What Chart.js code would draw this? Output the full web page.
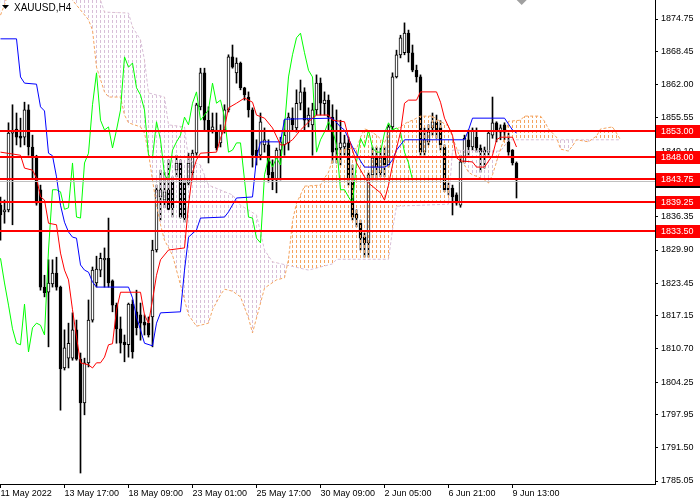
<!DOCTYPE html>
<html>
<head>
<meta charset="utf-8">
<script src="https://cdn.jsdelivr.net/npm/chart.js@4.4.0/dist/chart.umd.min.js"></script>
<style>
  html, body { margin: 0; padding: 0; background: #fff; }
  canvas { display: block; }
</style>
</head>
<body>
<canvas id="c" width="700" height="500"></canvas>
<script>
// XAUUSD H4 candles, one entry per bar (bar 0 = 11 May 2022)
const opens = [1838.6,1837.3,1837.7,1852.6,1853.4,1852.0,1851.8,1857.1,1849.9,1848.0,
  1841.6,1822.7,1821.7,1823.3,1825.4,1822.7,1807.0,1808.9,1808.9,1814.4,
  1808.7,1800.2,1808.0,1816.3,1823.5,1826.0,1828.0,1828.3,1823.9,1819.2,
  1814.6,1812.0,1811.5,1819.4,1817.9,1817.3,1815.9,1815.7,1816.9,1829.9,
  1840.2,1839.6,1841.6,1843.1,1845.4,1846.8,1842.9,1842.9,1844.9,1848.7,
  1857.7,1864.3,1855.1,1853.2,1853.2,1850.7,1853.2,1857.1,1867.4,1864.3,
  1866.2,1861.4,1859.6,1857.1,1849.3,1848.3,1850.3,1850.3,1845.0,1843.5,
  1849.3,1850.3,1850.7,1855.5,1853.6,1858.4,1860.6,1855.1,1854.2,1857.1,
  1862.3,1858.3,1859.0,1855.7,1849.7,1849.7,1849.9,1850.7,1843.1,1836.9,
  1835.1,1832.4,1831.3,1844.5,1847.8,1844.9,1848.0,1846.4,1853.8,1863.5,
  1867.8,1868.2,1872.0,1868.2,1864.8,1863.5,1848.9,1850.9,1853.6,1854.8,
  1853.6,1849.9,1841.9,1841.9,1840.6,1838.6,1847.0,1851.3,1849.9,1851.8,
  1849.7,1849.3,1848.9,1852.2,1854.6,1852.8,1854.2,1850.9,1849.3,1846.8];
const highs = [1840.2,1839.6,1854.6,1858.1,1856.5,1855.5,1858.6,1858.1,1852.2,1848.3,
  1842.5,1825.0,1828.0,1828.0,1828.5,1822.9,1814.4,1815.7,1817.7,1816.3,
  1809.9,1808.9,1820.2,1826.6,1828.7,1829.3,1830.3,1836.1,1824.1,1819.6,
  1816.9,1813.4,1819.6,1820.2,1822.1,1819.6,1817.3,1816.9,1831.8,1842.5,
  1845.4,1845.0,1847.4,1844.1,1848.3,1847.4,1843.5,1848.7,1849.3,1858.4,
  1865.2,1865.2,1857.7,1856.5,1856.5,1854.2,1858.1,1867.8,1869.7,1867.2,
  1866.4,1861.5,1860.6,1857.5,1851.3,1856.5,1853.6,1851.3,1847.4,1849.7,
  1851.8,1855.1,1856.5,1857.5,1861.0,1862.9,1861.4,1857.5,1858.4,1863.9,
  1863.3,1860.6,1860.0,1858.1,1857.1,1855.1,1852.2,1851.8,1846.4,1837.7,
  1835.7,1833.2,1844.9,1849.9,1849.9,1849.7,1849.9,1854.2,1864.3,1868.7,
  1871.6,1874.0,1872.6,1869.7,1865.8,1863.9,1853.6,1854.2,1856.5,1856.1,
  1855.0,1850.3,1842.9,1842.5,1841.0,1848.3,1852.2,1853.2,1853.6,1853.6,
  1850.3,1849.9,1852.8,1859.6,1854.8,1854.2,1854.6,1852.6,1849.4,1847.0];
const lows = [1831.8,1835.1,1837.3,1834.8,1850.3,1849.9,1850.3,1848.3,1843.9,1838.6,
  1822.1,1820.8,1811.1,1822.7,1822.1,1798.8,1806.6,1807.0,1808.5,1808.5,
  1786.6,1797.9,1807.2,1815.9,1822.7,1824.7,1822.7,1822.7,1817.9,1811.8,
  1809.9,1808.2,1809.1,1808.9,1813.4,1812.4,1813.4,1813.0,1811.1,1829.5,
  1835.7,1838.1,1837.7,1836.3,1844.1,1836.1,1835.3,1842.5,1843.9,1848.3,
  1857.1,1853.2,1846.8,1852.6,1849.3,1849.9,1852.6,1856.7,1865.2,1862.3,
  1861.0,1859.0,1855.7,1846.0,1846.4,1847.4,1848.9,1843.1,1841.6,1841.0,
  1843.5,1848.3,1849.3,1853.2,1852.8,1857.1,1853.2,1853.8,1848.3,1856.1,
  1856.1,1856.1,1853.2,1846.8,1846.8,1846.4,1848.3,1842.5,1835.7,1834.4,
  1829.9,1828.5,1828.5,1843.5,1843.5,1844.1,1844.1,1846.0,1853.2,1863.3,
  1867.2,1867.8,1866.4,1864.5,1862.5,1848.3,1848.3,1850.3,1852.2,1851.6,
  1849.3,1841.2,1840.6,1836.7,1838.6,1838.2,1846.8,1848.3,1849.3,1848.9,
  1845.0,1845.8,1848.3,1851.6,1850.9,1851.3,1851.3,1848.3,1846.4,1840.0];
const closes = [1836.7,1837.7,1852.6,1853.0,1851.8,1851.6,1857.1,1849.9,1848.0,1839.0,
  1822.7,1821.6,1823.5,1825.4,1822.7,1806.8,1810.9,1811.8,1814.4,1808.7,
  1800.2,1808.0,1816.3,1826.0,1826.2,1828.3,1828.3,1823.5,1819.2,1814.6,
  1811.8,1811.5,1819.4,1810.1,1814.8,1815.7,1815.3,1813.4,1829.9,1841.6,
  1841.6,1841.2,1837.8,1838.1,1846.8,1836.3,1836.1,1846.8,1848.7,1858.1,
  1864.3,1855.1,1853.2,1853.8,1849.7,1853.2,1857.1,1867.4,1865.4,1866.2,
  1861.4,1860.0,1857.1,1848.3,1847.8,1854.8,1851.3,1844.5,1843.5,1849.3,
  1850.9,1852.2,1855.7,1854.2,1858.4,1860.6,1855.1,1856.1,1857.1,1862.3,
  1858.4,1859.0,1855.7,1848.9,1849.3,1850.7,1850.7,1843.5,1836.3,1836.1,
  1832.2,1831.3,1844.5,1847.8,1846.0,1847.8,1846.4,1853.8,1863.5,1867.8,
  1871.1,1872.0,1868.2,1864.8,1863.5,1848.9,1851.3,1852.8,1854.8,1853.2,
  1850.3,1841.6,1841.6,1840.2,1839.0,1847.0,1851.6,1849.9,1853.2,1849.7,
  1848.9,1848.9,1852.6,1854.6,1853.2,1853.6,1852.8,1848.9,1846.8,1843.5];

// Ichimoku lines as [bar, price] corners
const tenkan = [[0,1848.9],[5,1848.3],[6,1845.8],[8,1845.4],[9,1843.9],[10,1840.2],[11,1839.6],[12,1835.1],[14,1834.8],[15,1829.3],
  [16,1826.0],[17,1824.1],[18,1818.3],[19,1813.0],[20,1808.0],[22,1807.6],[23,1807.0],[24,1808.0],[25,1808.0],[26,1809.1],
  [27,1811.5],[28,1811.7],[29,1818.3],[30,1821.7],[35,1821.7],[36,1817.3],[37,1815.7],[38,1820.2],[39,1825.0],[40,1828.0],
  [42,1829.9],[46,1830.3],[47,1838.6],[48,1844.9],[49,1847.4],[50,1848.7],[54,1848.9],[55,1851.6],[56,1853.6],[57,1857.5],
  [59,1858.4],[61,1859.4],[63,1858.6],[64,1856.1],[66,1855.5],[68,1853.6],[70,1850.3],[71,1850.3],[73,1851.3],[75,1853.2],
  [78,1855.5],[79,1856.1],[82,1856.1],[83,1855.1],[86,1854.8],[87,1851.8],[89,1846.8],[91,1844.1],[92,1842.9],[95,1841.0],
  [96,1839.6],[97,1842.5],[98,1846.4],[100,1852.8],[101,1858.4],[102,1859.0],[104,1859.0],[105,1860.6],[109,1860.6],[110,1858.6],
  [111,1855.5],[113,1852.2],[114,1847.8],[115,1847.2],[118,1847.0],[119,1846.0],[121,1846.0],[123,1848.3],[124,1851.3],[125,1851.8],
  [128,1851.8],[129,1849.9]];
const kijun = [[0,1870.9],[4,1870.9],[5,1863.5],[6,1862.3],[9,1862.1],[10,1857.7],[11,1856.9],[12,1848.7],[13,1848.2],[14,1844.1],
  [15,1838.6],[16,1835.3],[17,1833.4],[18,1832.4],[19,1832.2],[20,1827.0],[21,1826.0],[22,1825.6],[23,1823.7],[24,1822.7],
  [32,1822.7],[33,1820.6],[34,1816.9],[35,1814.4],[36,1811.8],[38,1811.3],[39,1815.7],[40,1817.7],[45,1817.9],[46,1826.0],
  [47,1832.4],[49,1833.8],[50,1836.1],[56,1836.3],[57,1837.3],[59,1840.0],[63,1840.2],[64,1847.8],[65,1850.9],[70,1850.9],
  [71,1855.3],[83,1855.5],[85,1853.8],[86,1853.2],[88,1849.9],[90,1847.2],[91,1846.0],[96,1846.0],[97,1846.4],[98,1847.4],
  [99,1849.3],[101,1851.3],[116,1851.3],[117,1853.2],[118,1855.5],[126,1855.5],[128,1853.2],[129,1852.6]];
const spanA = [[0,1875.5],[1,1877.5],[2,1880.0],[10,1884.3],[16,1880.4],[18,1878.4],[22,1874.6],[23,1872.6],[24,1865.4],[26,1860.6],
  [27,1859.6],[30,1859.6],[31,1856.1],[32,1854.6],[35,1853.8],[36,1852.6],[37,1848.7],[38,1843.5],[39,1838.6],[40,1834.8],
  [41,1831.8],[43,1828.9],[45,1823.1],[46,1820.2],[47,1817.3],[49,1815.1],[52,1815.7],[53,1818.3],[55,1821.2],[56,1822.3],
  [58,1821.9],[60,1820.8],[62,1816.7],[63,1813.8],[64,1816.7],[66,1822.5],[69,1824.1],[71,1824.5],[72,1828.1],[73,1835.5],
  [74,1839.0],[75,1840.6],[76,1842.3],[80,1842.5],[81,1843.9],[82,1845.0],[83,1847.4],[84,1848.3],[85,1849.3],[88,1849.7],
  [89,1849.5],[90,1851.8],[91,1853.4],[92,1853.2],[94,1852.2],[95,1851.5],[96,1850.7],[97,1852.8],[98,1853.0],[100,1853.8],
  [101,1854.4],[102,1854.8],[103,1855.1],[104,1855.5],[105,1855.9],[108,1855.9],[109,1855.3],[110,1854.9],[111,1854.4],[112,1854.0],
  [113,1851.8],[114,1849.7],[115,1847.6],[116,1846.4],[117,1845.0],[118,1844.5],[120,1843.9],[121,1843.5],[122,1842.9],[123,1844.5],
  [124,1847.0],[125,1849.5],[126,1851.6],[127,1854.9],[130,1855.1],[131,1855.9],[135,1855.9],[136,1854.9],[137,1853.4],[138,1852.6],
  [139,1851.8],[140,1849.5],[142,1849.1],[143,1850.1],[144,1851.3],[147,1850.9],[148,1851.5],[149,1852.0],[150,1853.4],[153,1853.8],
  [154,1852.6],[155,1851.3]];
const spanB = [[0,1890.1],[24,1882.3],[25,1878.4],[26,1876.1],[32,1875.9],[33,1873.2],[35,1870.7],[36,1866.8],[37,1860.4],[41,1859.6],
  [42,1854.2],[46,1853.8],[47,1847.4],[50,1846.4],[52,1842.5],[58,1840.6],[60,1838.6],[64,1836.7],[66,1829.9],[68,1827.6],
  [77,1826.0],[83,1827.2],[84,1828.1],[97,1828.1],[98,1833.8],[99,1838.4],[112,1838.8],[113,1849.3],[125,1849.1],[126,1850.1],
  [127,1851.3],[155,1851.3]];
const chikouShift = 26;

// horizontal levels and the current bid
const levels = [1853.00, 1848.00, 1843.75, 1839.25, 1833.50];
const bidPrice = 1843.32;

// axes
const yTickValues = [1785.05,1791.50,1797.95,1804.25,1810.70,1817.15,1823.45,1829.90,1836.35,1842.65,1849.10,1855.55,1862.00,1868.45,1874.75];
const xTickBars = [0,16,32,48,64,80,96,112,128];
const xTickLabels = ['11 May 2022','13 May 17:00','18 May 09:00','23 May 01:00','25 May 17:00','30 May 09:00','2 Jun 05:00','6 Jun 21:00','9 Jun 13:00'];
const shiftBar = 130.3;

const FONT = "'Liberation Sans', Arial, sans-serif";
Chart.defaults.font.family = FONT;
Chart.defaults.font.size = 9;
Chart.defaults.color = '#000';

const canvas = document.getElementById('c');
const ctx = canvas.getContext('2d');

// MT4 style dotted histogram: one dashed pixel column per bar
function hatch(color) {
  const t = document.createElement('canvas');
  t.width = 4; t.height = 5;
  const g = t.getContext('2d');
  g.fillStyle = color;
  g.fillRect(0, 0, 1, 3);
  return ctx.createPattern(t, 'repeat');
}
const pts = arr => arr.map(p => ({ x: p[0], y: p[1] }));

const wickData = highs.map((h, i) => ({ x: i, y: [lows[i], h] }));
const bodyData = opens.map((o, i) => ({ x: i, y: [o, closes[i]] }));
const bodyFill = opens.map((o, i) => closes[i] >= o ? '#ffffff' : '#000000');
const chikouData = closes.slice(chikouShift).map((c, i) => ({ x: i, y: c }));

const lineBase = { type: 'line', borderWidth: 1, pointRadius: 0, tension: 0, fill: false };

const overlay = {
  id: 'overlay',
  afterDraw(chart) {
    const { ctx: c, chartArea: a, scales: { x, y } } = chart;
    c.save();
    // bid line
    const by = Math.round(y.getPixelForValue(bidPrice)) + 0.5;
    c.strokeStyle = '#c0c0c0'; c.lineWidth = 1;
    c.beginPath(); c.moveTo(a.left, by); c.lineTo(a.right, by); c.stroke();
    // level lines
    c.strokeStyle = '#ff0000'; c.lineWidth = 2;
    levels.forEach(v => {
      const py = Math.round(y.getPixelForValue(v));
      c.beginPath(); c.moveTo(a.left, py); c.lineTo(a.right, py); c.stroke();
    });
    // price tags on the right
    c.font = '9px ' + FONT;
    c.textBaseline = 'middle';
    const tag = (v, bg) => {
      const py = Math.round(y.getPixelForValue(v));
      c.fillStyle = bg;
      c.fillRect(a.right + 1, py - 6, chart.width - a.right - 1, 13);
      c.fillStyle = '#fff';
      c.fillText(v.toFixed(2), a.right + 6, py + 0.5);
    };
    tag(bidPrice, '#000');
    levels.forEach(v => tag(v, '#ff0000'));
    // symbol title
    c.fillStyle = '#000';
    c.beginPath(); c.moveTo(2, 5); c.lineTo(9, 5); c.lineTo(5.5, 9); c.closePath(); c.fill();
    c.font = '10px ' + FONT;
    c.fillText('XAUUSD,H4', 14, 8);
    // chart shift marker
    const sx = x.getPixelForValue(shiftBar);
    c.fillStyle = '#a0a0a0';
    c.beginPath(); c.moveTo(sx - 5, 0); c.lineTo(sx + 5, 0); c.lineTo(sx, 5); c.closePath(); c.fill();
    c.restore();
  }
};

new Chart(ctx, {
  type: 'bar',
  data: {
    datasets: [
      { type: 'bar', data: wickData, backgroundColor: '#000', borderWidth: 0, barThickness: 1, grouped: false, order: 5 },
      { type: 'bar', data: bodyData, backgroundColor: bodyFill, borderColor: '#000', borderWidth: 1,
        borderSkipped: false, barThickness: 3, grouped: false, order: 4 },
      { ...lineBase, data: pts(spanA), borderColor: '#f4a460', borderDash: [3, 2],
        fill: { target: '+1', above: hatch('#f4a460'), below: hatch('#d8bfd8') }, order: 3 },
      { ...lineBase, data: pts(spanB), borderColor: '#d8bfd8', borderDash: [3, 2], order: 3 },
      { ...lineBase, data: pts(tenkan), borderColor: '#ff0000', order: 1 },
      { ...lineBase, data: pts(kijun), borderColor: '#0000ff', order: 1 },
      { ...lineBase, data: chikouData, borderColor: '#00ff00', order: 1 }
    ]
  },
  options: {
    responsive: false,
    animation: false,
    devicePixelRatio: 1,
    events: [],
    layout: { padding: 0 },
    plugins: { legend: { display: false }, tooltip: { enabled: false } },
    scales: {
      x: {
        type: 'linear', min: -0.125, max: 163.625, offset: false,
        afterBuildTicks: s => { s.ticks = xTickBars.map(v => ({ value: v })); },
        afterFit: s => { s.height = 16; s.paddingLeft = 0; s.paddingRight = 0; },
        ticks: { autoSkip: false, maxRotation: 0, minRotation: 0, align: 'start', padding: 0,
          callback: (v, i) => xTickLabels[i] },
        grid: { display: true, drawOnChartArea: false, drawTicks: true, tickLength: 4, color: '#000', offset: false },
        border: { display: true, color: '#000' }
      },
      y: {
        position: 'right', min: 1784.47, max: 1878.44,
        afterBuildTicks: s => { s.ticks = yTickValues.map(v => ({ value: v })); },
        afterFit: s => { s.width = 45; s.paddingTop = 0; s.paddingBottom = 0; },
        ticks: { autoSkip: false, padding: 3, callback: v => v.toFixed(2) },
        grid: { drawOnChartArea: false, tickLength: 3, color: '#000' },
        border: { display: true, color: '#000' }
      }
    }
  },
  plugins: [overlay]
});
</script>
</body>
</html>
